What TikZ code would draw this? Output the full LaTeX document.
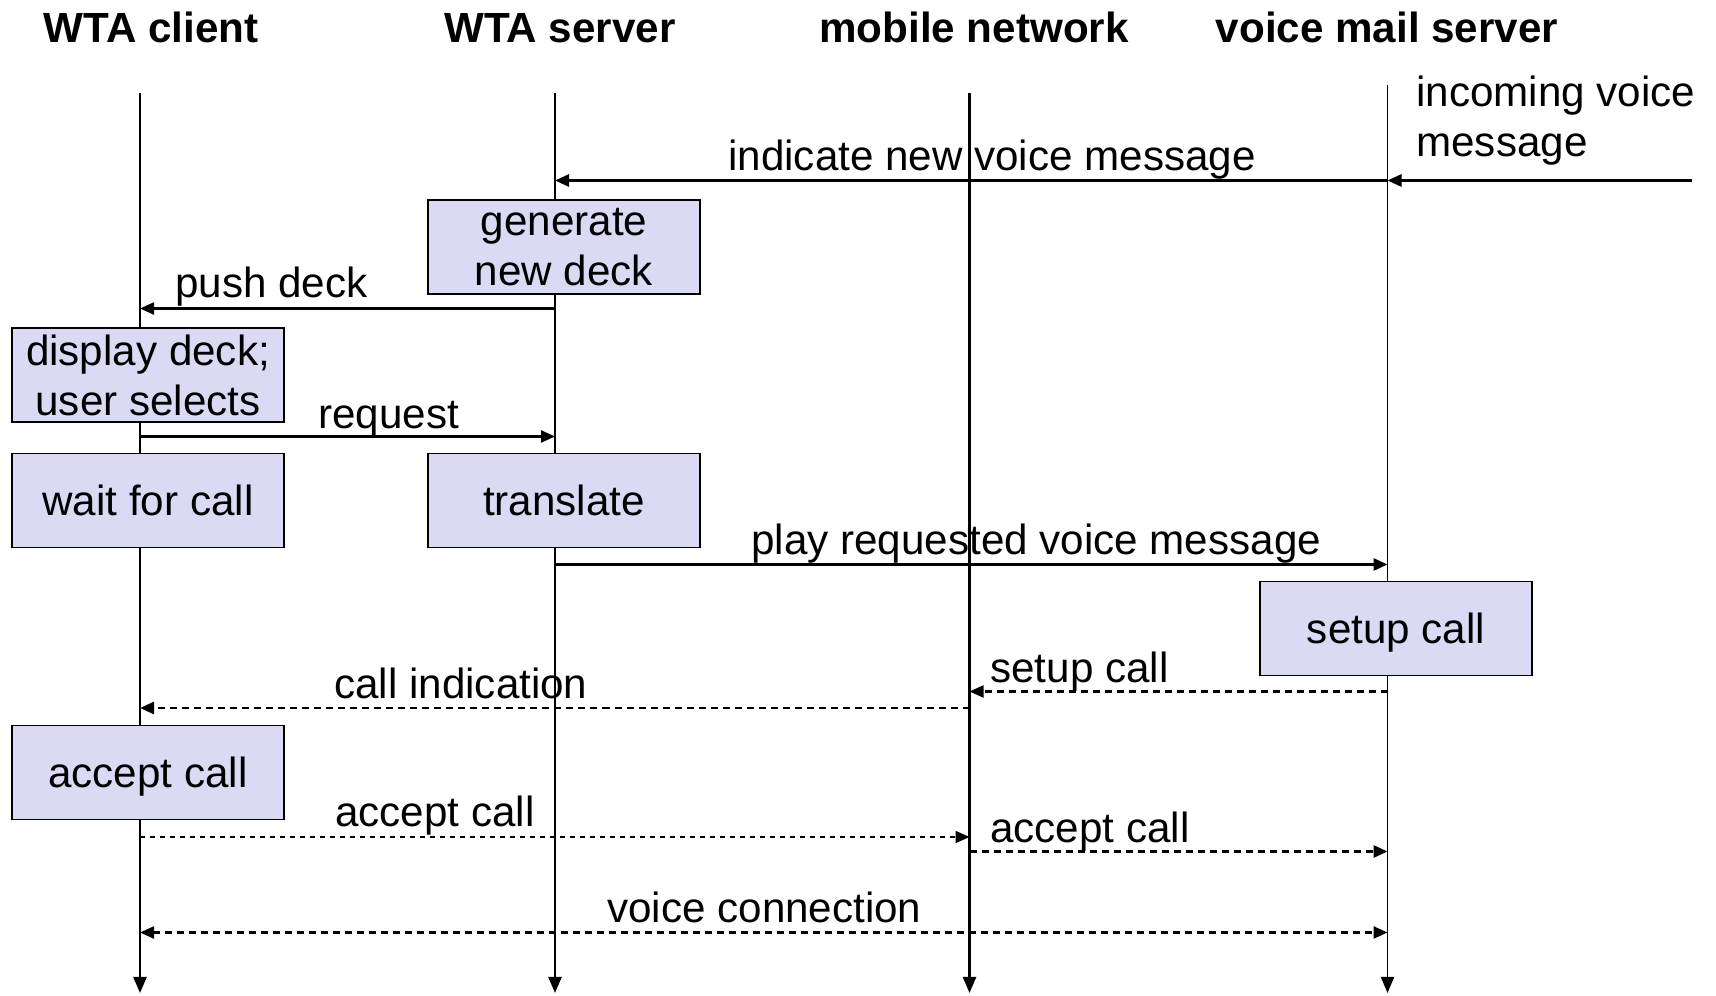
\documentclass[tikz,border=0pt]{standalone}
\usepackage{fontspec}
\setmainfont{Liberation Sans}
\usetikzlibrary{arrows.meta}
\definecolor{boxfill}{RGB}{218,218,245}

\begin{document}
\begin{tikzpicture}[
    font=\fontsize{24}{28.5}\selectfont,
    head/.style={font=\fontsize{24}{28.5}\selectfont\bfseries, anchor=base, inner sep=0pt},
    life/.style={line width=1.4pt, -{Triangle[length=0.32cm,width=0.26cm]}},
    task/.style={draw, line width=1.1pt, fill=boxfill, minimum width=5.44cm,
      minimum height=1.88cm, align=center, inner sep=0pt},
    oneline/.style={text height=0.61cm, text depth=0pt},
    msg/.style={line width=1.3pt, -{Triangle[length=0.28cm,width=0.24cm]}},
    reply/.style={msg, dash pattern=on 0.14cm off 0.1cm},
    lbl/.style={anchor=base west, inner sep=0pt}
  ]
    \useasboundingbox (0,0) rectangle (34.32,19.92);

    % columns
    \node[head] (client) at (3.02,19.07) {WTA client};
    \node[head] (server) at (11.20,19.07) {WTA server};
    \node[head] (network) at (19.48,19.07) {mobile network};
    \node[head] (mailsrv) at (27.74,19.07) {voice mail server};

    % lifelines
    \coordinate (cl) at (2.80,18.05);
    \coordinate (sv) at (11.10,18.05);
    \coordinate (nw) at (19.39,18.05);
    \coordinate (vm) at (27.75,18.22);
    \coordinate (bottom) at (0,0.06);
    \foreach \l in {cl,sv,nw}
      \draw[life] (\l) -- (\l |- bottom);
    \draw[life, line width=1pt] (vm) -- (vm |- bottom);

    % activities
    \node[task] (gen) at (11.28,14.98) {generate\\new deck};
    \node[task] (disp) at (2.96,12.42) {display deck;\\user selects};
    \node[task, oneline] (wait) at (2.96,9.91) {wait for call};
    \node[task, oneline] (trans) at (11.28,9.91) {translate};
    \node[task, oneline] (setup) at (27.92,7.35) {setup call};
    \node[task, oneline] (acc) at (2.96,4.47) {accept call};

    % messages
    \coordinate (inc) at (33.84,16.31);
    \coordinate (m1) at (0,16.31);
    \coordinate (m2) at (0,13.75);
    \coordinate (m3) at (0,11.19);
    \coordinate (m4) at (0,8.63);
    \coordinate (m5) at (0,6.09);
    \coordinate (m6) at (0,5.76);
    \coordinate (m7) at (0,3.18);
    \coordinate (m8) at (0,2.89);
    \coordinate (m9) at (0,1.27);

    \node[lbl, align=left] (incl) at (28.32,16.79) {incoming voice\\message};
    \draw[msg, line width=1.6pt] (inc) -- (vm |- inc);

    \node[lbl] (l1) at (14.56,16.50) {indicate new voice message};
    \draw[msg, line width=1.6pt] (vm |- m1) -- (sv |- m1);

    \node[lbl] (l2) at (3.50,13.96) {push deck};
    \draw[msg] (sv |- m2) -- (cl |- m2);

    \node[lbl] (l3) at (6.36,11.35) {request};
    \draw[msg] (cl |- m3) -- (sv |- m3);

    \node[lbl] (l4) at (15.02,8.83) {play requested voice message};
    \draw[msg, line width=1.6pt] (sv |- m4) -- (vm |- m4);

    \node[lbl] (l5) at (19.80,6.26) {setup call};
    \draw[reply, line width=1.2pt] (vm |- m5) -- (nw |- m5);

    \node[lbl] (l6) at (6.68,5.94) {call indication};
    \draw[reply, line width=1.6pt] (nw |- m6) -- (cl |- m6);

    \node[lbl] (l7) at (6.70,3.39) {accept call};
    \draw[msg, line width=1pt, dash pattern=on 0.1cm off 0.1cm] (cl |- m7) -- (nw |- m7);

    \node[lbl] (l8) at (19.80,3.07) {accept call};
    \draw[reply, line width=1.6pt] (nw |- m8) -- (vm |- m8);

    \node[lbl] (l9) at (12.14,1.46) {voice connection};
    \draw[reply, line width=1.3pt, {Triangle[length=0.28cm,width=0.24cm]}-{Triangle[length=0.28cm,width=0.24cm]}]
      (cl |- m9) -- (vm |- m9);
  \end{tikzpicture}
\end{document}
